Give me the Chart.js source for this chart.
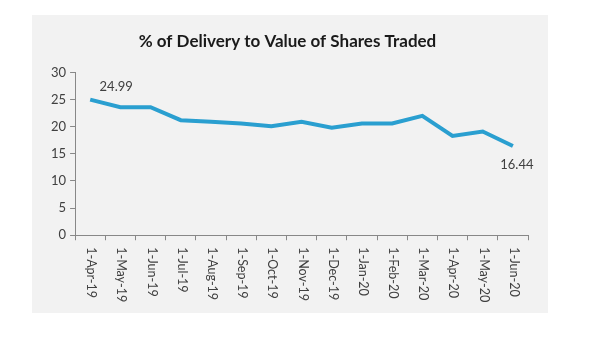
<!DOCTYPE html>
<html>
<head>
<meta charset="utf-8">
<script src="https://cdn.jsdelivr.net/npm/chart.js@4.4.0/dist/chart.umd.min.js"></script>
<style>
    html, body { margin: 0; padding: 0; background: #ffffff; }
    #box {
        position: absolute;
        left: 32px;
        top: 15px;
        width: 516px;
        height: 298px;
        background: #f2f2f2;
    }
</style>
</head>
<body>
<div id="box"><canvas id="chart" width="516" height="298"></canvas></div>
<script>
var MONTHS = ['1-Apr-19', '1-May-19', '1-Jun-19', '1-Jul-19', '1-Aug-19', '1-Sep-19', '1-Oct-19',
    '1-Nov-19', '1-Dec-19', '1-Jan-20', '1-Feb-20', '1-Mar-20', '1-Apr-20', '1-May-20', '1-Jun-20'];
var DELIVERY_PCT = [24.99, 23.6, 23.6, 21.2, 20.9, 20.6, 20.1, 20.9, 19.8, 20.6, 20.6, 22.0, 18.3, 19.1, 16.44];
var Y_TICKS = [0, 5, 10, 15, 20, 25, 30];
// only first and last point get a value label
var LABELLED = [0, DELIVERY_PCT.length - 1];

var TEXT = '#404040';
var AXIS = '#888888';
var FONT = 'Lato, "Open Sans", sans-serif';

/**
 * Draws the category labels turned clockwise (Excel style, read top to bottom).
 */
var sideways = {
    id: 'sideways',
    afterDraw: function (chart) {
        var scale = chart.scales.x;
        var ctx = chart.ctx;
        ctx.save();
        ctx.fillStyle = TEXT;
        ctx.font = '12.5px ' + FONT;
        ctx.textAlign = 'left';
        ctx.textBaseline = 'middle';
        for (var i = 0; i < MONTHS.length; i++) {
            ctx.save();
            ctx.translate(scale.getPixelForTick(i) + 1, scale.top + 12);
            ctx.rotate(Math.PI / 2);
            ctx.fillText(MONTHS[i], 0, 0);
            ctx.restore();
        }
        ctx.restore();
    }
};

/**
 * Value labels next to the first and last points.
 */
var endLabels = {
    id: 'endLabels',
    afterDatasetsDraw: function (chart) {
        var pts = chart.getDatasetMeta(0).data;
        var ctx = chart.ctx;
        ctx.save();
        ctx.fillStyle = TEXT;
        ctx.font = '13px ' + FONT;
        ctx.textAlign = 'center';
        ctx.textBaseline = 'middle';
        var first = pts[LABELLED[0]];
        ctx.fillText(DELIVERY_PCT[LABELLED[0]].toFixed(2), first.x + 26, first.y - 13);
        var last = pts[LABELLED[1]];
        ctx.fillText(DELIVERY_PCT[LABELLED[1]].toFixed(2), last.x + 4, last.y + 19);
        ctx.restore();
    }
};

new Chart(document.getElementById('chart').getContext('2d'), {
    type: 'line',
    data: {
        labels: MONTHS,
        datasets: [{
            data: DELIVERY_PCT,
            borderColor: '#2a9fd0',
            borderWidth: 4,
            pointRadius: 0,
            tension: 0,
            fill: false
        }]
    },
    options: {
        responsive: false,
        animation: false,
        layout: {
            padding: { left: 15, right: 20, top: 8, bottom: 12 }
        },
        plugins: {
            legend: { display: false },
            tooltip: { enabled: false },
            title: {
                display: true,
                text: '% of Delivery to Value of Shares Traded',
                color: '#1a1a1a',
                font: { family: FONT, size: 17, weight: 'bold' },
                padding: { top: 8, bottom: 21 }
            }
        },
        scales: {
            x: {
                offset: true,
                grid: { offset: true, drawOnChartArea: false, tickLength: 5, color: AXIS },
                border: { color: AXIS, width: 1 },
                ticks: {
                    color: 'rgba(0,0,0,0)',
                    font: { family: FONT, size: 12 },
                    minRotation: 90,
                    maxRotation: 90,
                    autoSkip: false,
                    padding: 4
                }
            },
            y: {
                min: Y_TICKS[0],
                max: Y_TICKS[Y_TICKS.length - 1],
                grid: { drawOnChartArea: false, tickLength: 5, color: AXIS },
                border: { color: AXIS, width: 1 },
                afterBuildTicks: function (axis) {
                    axis.ticks = Y_TICKS.map(function (v) { return { value: v }; });
                },
                ticks: {
                    color: TEXT,
                    font: { family: FONT, size: 13 },
                    padding: 4
                }
            }
        }
    },
    plugins: [sideways, endLabels]
});
</script>
</body>
</html>
